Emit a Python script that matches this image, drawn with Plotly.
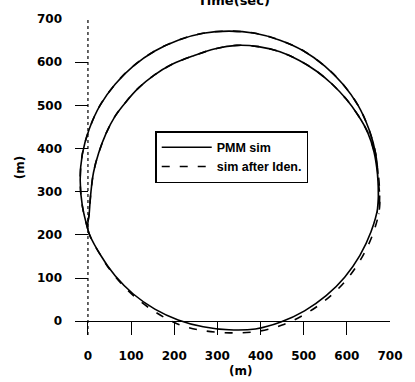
import plotly.graph_objects as go

# Ship track from the PMM simulation (two laps of the turning circle), metres
pmm_x = [0, -13, -18, -13, 3, 28, 63, 105, 155, 209, 267, 327, 387, 445, 500, 549,
         591, 626, 651, 667, 672, 672, 656, 630, 595, 552, 502, 447, 388, 327, 267,
         209, 155, 105, 63, 28, 0,
         3, 7, 13, 25, 42, 63, 88, 118, 152, 195, 245, 295, 345, 395, 445, 490,
         530, 565, 598, 626, 648, 663, 671, 673, 670]
pmm_y = [212, 267, 327, 387, 445, 500, 549, 591, 626, 651, 667, 672, 667, 651, 626, 591,
         549, 500, 445, 387, 327, 266, 207, 152, 102, 59, 24, -2, -18, -20, -13,
         3, 28, 63, 105, 155, 212,
         250, 300, 345, 390, 435, 475, 508, 541, 569, 595, 615, 631, 639, 636, 624, 604,
         579, 550, 515, 477, 438, 392, 340, 290, 250]

# Track simulated with the identified coefficients, metres
iden_x = [0, -13, -18, -13, 3, 28, 63, 105, 155, 209, 267, 327, 387, 445, 500, 549,
          591, 626, 651, 667, 673, 676, 661, 635, 600, 557, 506, 450, 390, 328, 268,
          212, 158, 108, 65, 29, 0,
          3, 7, 13, 25, 42, 63, 88, 118, 152, 195, 245, 295, 345, 395, 445, 490,
          530, 565, 598, 626, 648, 664, 673, 676, 674]
iden_y = [212, 267, 327, 387, 445, 500, 549, 591, 626, 651, 667, 672, 667, 651, 626, 591,
          549, 500, 445, 387, 327, 265, 204, 148, 97, 54, 18, -9, -24, -27, -22,
          -8, 20, 57, 101, 153, 212,
          250, 300, 345, 390, 435, 475, 508, 541, 569, 595, 615, 631, 639, 636, 624, 604,
          579, 550, 515, 477, 438, 392, 340, 290, 248]

tick_vals = [0, 100, 200, 300, 400, 500, 600, 700]
tick_text = ["0", "100", "200", "300", "400", "500", "600", "700"]

fig = go.Figure()
fig.add_trace(go.Scatter(x=pmm_x, y=pmm_y, mode="lines", name="PMM sim",
                         line=dict(color="black", width=1.6, shape="spline", smoothing=1)))
fig.add_trace(go.Scatter(x=iden_x, y=iden_y, mode="lines", name="sim after Iden.",
                         line=dict(color="black", width=1.6, dash="8px,10px",
                                   shape="spline", smoothing=1)))

tickfont = dict(family="DejaVu Sans", size=12, color="black", weight="bold")
axis_common = dict(tickvals=tick_vals, ticktext=tick_text, ticks="inside", ticklen=13,
                   tickwidth=1.2, tickcolor="black", showgrid=False, showline=False,
                   tickfont=tickfont, ticklabelstandoff=12, fixedrange=True)

fig.update_xaxes(range=[-30, 700], zeroline=False, **axis_common)
fig.update_yaxes(range=[-32, 700], zeroline=True, zerolinecolor="black",
                 zerolinewidth=1.3, **axis_common)

# vertical axis line through x = 0
fig.add_shape(type="line", xref="x", yref="paper", x0=0, x1=0, y0=0, y1=1,
              line=dict(color="black", width=1.2, dash="dot"))

fig.add_annotation(text="Time(sec)", xref="paper", yref="paper", x=0.506, y=1.028,
                   xanchor="center", yanchor="bottom", showarrow=False,
                   font=dict(family="DejaVu Sans", size=13, color="black", weight="bold"))
fig.add_annotation(text="(m)", xref="paper", yref="paper", x=0.525, y=-0.115,
                   xanchor="center", yanchor="middle", showarrow=False,
                   font=dict(family="DejaVu Sans", size=12, color="black", weight="bold"))
fig.add_annotation(text="(m)", xref="paper", yref="paper", x=-0.174, y=0.528,
                   xanchor="center", yanchor="middle", showarrow=False, textangle=-90,
                   font=dict(family="DejaVu Sans", size=12, color="black", weight="bold"))

fig.update_layout(
    width=415, height=382,
    margin=dict(l=75, r=18, t=13, b=47),
    paper_bgcolor="white", plot_bgcolor="white",
    showlegend=True,
    legend=dict(x=0.2547, y=0.645, xanchor="left", yanchor="top",
                bgcolor="white", bordercolor="black", borderwidth=1.5,
                tracegroupgap=0, itemwidth=50,
                font=dict(family="Liberation Sans", size=12.5, color="black", weight="bold")),
)

fig.write_html("out.html")
